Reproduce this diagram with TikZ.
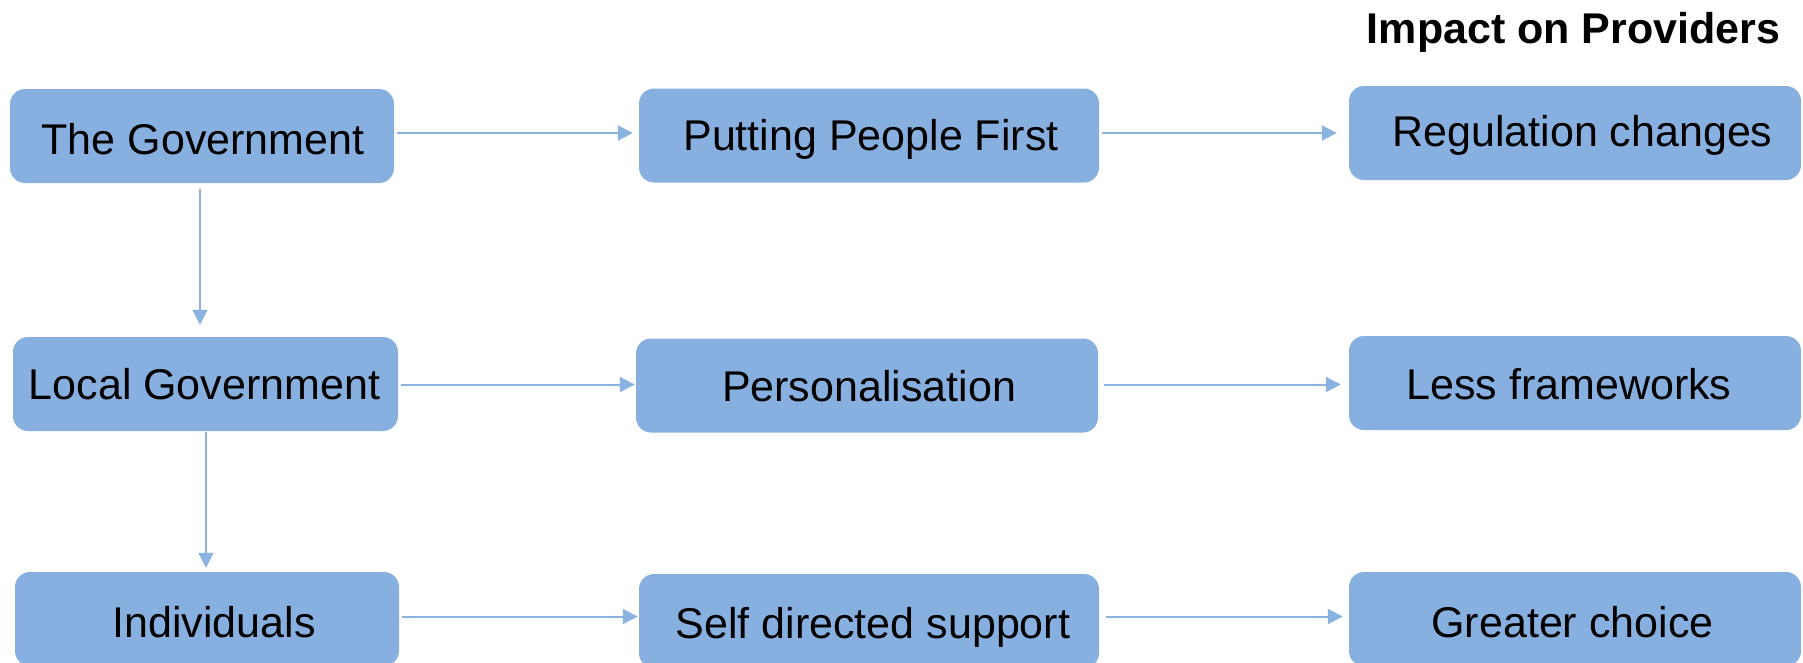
\documentclass[tikz,border=0pt]{standalone}
\usepackage{fontspec}
\setmainfont{Liberation Sans}
\usetikzlibrary{arrows.meta}
\definecolor{boxblue}{RGB}{135,176,224}
\definecolor{linkblue}{RGB}{138,179,226}
% move a label inside its box without changing the box
\newcommand{\nudgetext}[3]{\raisebox{#2}{\hspace*{#1}#3\hspace*{-#1}}}

\begin{document}
\begin{tikzpicture}[x=1pt,y=-1pt,
  box/.style={fill=boxblue, draw=none, rounded corners=15pt, inner sep=0pt,
    minimum height=94pt, text height=30.8pt, text depth=0pt,
    font=\fontsize{43}{50}\selectfont},
  leftbox/.style={box, minimum width=384pt},
  midbox/.style={box, minimum width=460pt},
  rightbox/.style={box, minimum width=452pt},
  link/.style={draw=linkblue, line width=2pt,
    -{Triangle[length=15pt,width=15pt]}}]
\clip (0,0) rectangle (1803,662);

% heading of the right-hand column
\node[anchor=base, font=\fontsize{43}{50}\selectfont\bfseries] (head) at (1573.5,43) {Impact on Providers};

% row levels of the horizontal links
\coordinate (r1) at (0,133);
\coordinate (r2) at (0,384.5);
\coordinate (r3) at (0,616.5);
% column positions of the vertical links
\coordinate (c1) at (200,0);
\coordinate (c2) at (206,0);

% boxes
\node[leftbox]  (gov)  at (202,136)   {\nudgetext{1pt}{-3pt}{The Government}};
\node[midbox]   (ppf)  at (869,135.5) {\nudgetext{2pt}{0pt}{Putting People First}};
\node[rightbox] (reg)  at (1575,133)  {\nudgetext{7.5pt}{2pt}{Regulation changes}};

\node[leftbox, minimum width=385pt] (lg) at (205.5,384) {\nudgetext{-1pt}{0pt}{Local Government}};
\node[midbox, minimum width=462pt]  (pers) at (867,385.5) {\nudgetext{2pt}{-1pt}{Personalisation}};
\node[rightbox] (lf)   at (1575,383)  {\nudgetext{-6pt}{-1pt}{Less frameworks}};

\node[leftbox]  (ind)  at (207,619)   {\nudgetext{7pt}{-2.7pt}{Individuals}};
\node[midbox]   (sds)  at (869,621)   {\nudgetext{4pt}{-2pt}{Self directed support}};
\node[rightbox] (gc)   at (1575,619)  {\nudgetext{-2.5pt}{-2.7pt}{Greater choice}};

% horizontal links
\draw[link, shorten <=3pt, shorten >=6pt]  (gov.east  |- r1) -- (ppf.west |- r1);
\draw[link, shorten <=3pt, shorten >=12pt] (ppf.east  |- r1) -- (reg.west |- r1);
\draw[link, shorten <=3pt, shorten >=1pt]  (lg.east   |- r2) -- (pers.west |- r2);
\draw[link, shorten <=6pt, shorten >=8pt]  (pers.east |- r2) -- (lf.west |- r2);
\draw[link, shorten <=3pt, shorten >=1pt]  (ind.east  |- r3) -- (sds.west |- r3);
\draw[link, shorten <=7pt, shorten >=6pt]  (sds.east  |- r3) -- (gc.west |- r3);

% vertical links
\draw[link, shorten <=6pt, shorten >=12pt] (gov.south -| c1) -- (lg.north -| c1);
\draw[link, shorten <=1pt, shorten >=4pt]  (lg.south -| c2) -- (ind.north -| c2);
\end{tikzpicture}
\end{document}
